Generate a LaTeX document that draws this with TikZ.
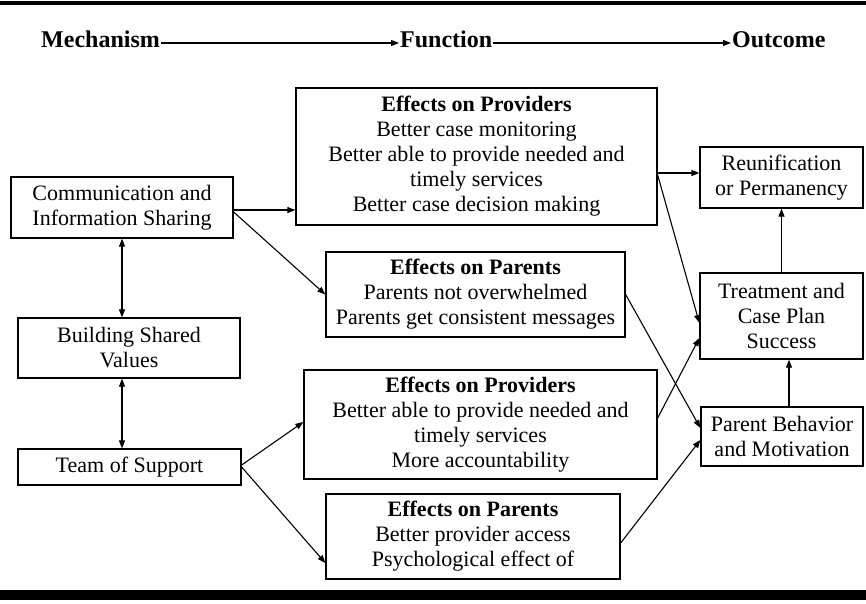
\documentclass[tikz,border=0pt]{standalone}
\usepackage{fontspec}
\setmainfont{Liberation Serif}
\usetikzlibrary{arrows.meta,calc}
\begin{document}
\begin{tikzpicture}[x=1pt,y=-1pt,
  box/.style={draw,line width=1.3pt,inner sep=0pt,align=center,
    font=\fontsize{22}{25}\selectfont},
  hdr/.style={inner sep=1pt,font=\fontsize{24}{28}\selectfont\bfseries},
  arr/.style={line width=1.1pt,-{Triangle[length=8pt,width=6pt]}},
  dbl/.style={line width=1.1pt,{Triangle[length=8pt,width=6pt]}-{Triangle[length=8pt,width=6pt]}}]
\useasboundingbox[fill=white] (0,0) rectangle (866,603);
% rules
\fill[black] (0,0.5) rectangle (866,4.5);
\fill[black] (0,590) rectangle (866,600);
% header
\node[hdr,anchor=base west] (mech) at (40,47) {Mechanism};
\node[hdr,anchor=base west] (func) at (399,47) {Function};
\node[hdr,anchor=base west] (outc) at (731,47) {Outcome};
\draw[arr] ([yshift=4pt]mech.base east) -- ([yshift=4pt]func.base west);
\draw[arr] ([yshift=4pt]func.base east) -- ([yshift=4pt]outc.base west);
% mechanism boxes
\node[box,minimum width=222pt,minimum height=61pt] (comm) at (122,207.5)
  {Communication and\\Information Sharing};
\node[box,minimum width=222pt,minimum height=60pt] (build) at (129,348)
  {Building Shared\\Values};
\node[box,minimum width=223pt,minimum height=36pt] (team) at (129.5,467)
  {Team of Support};
% function boxes
\node[box,minimum width=361pt,minimum height=137pt] (prov1) at (476.5,156.5)
  {\textbf{Effects on Providers}\\Better case monitoring\\Better able to provide needed and\\timely services\\Better case decision making};
\node[box,minimum width=299pt,minimum height=85pt] (par1) at (475.5,294.5)
  {\textbf{Effects on Parents}\\Parents not overwhelmed\\Parents get consistent messages};
\node[box,minimum width=353pt,minimum height=109pt] (prov2) at (480.5,424.5)
  {\textbf{Effects on Providers}\\Better able to provide needed and\\timely services\\More accountability};
\node[box,minimum width=294pt,minimum height=85pt] (par2) at (473,536.5)
  {\textbf{Effects on Parents}\\Better provider access\\Psychological effect of};
% outcome boxes
\node[box,minimum width=163pt,minimum height=61pt] (reun) at (781.5,177.5)
  {Reunification\\or Permanency};
\node[box,minimum width=163pt,minimum height=86pt] (treat) at (781.5,316)
  {Treatment and\\Case Plan\\Success};
\node[box,minimum width=162pt,minimum height=59pt] (pbeh) at (782,436.5)
  {Parent Behavior\\and Motivation};
% connectors
\coordinate (c1) at ([yshift=-2.5pt]comm.east);
\draw[arr] (c1) -- (c1 -| prov1.west);
\draw[arr] ([yshift=-4.5pt]comm.east) -- (par1.west);
\draw[dbl] (comm.south) -- (comm.south |- build.north);
\draw[dbl] (build.south -| comm.south) -- (team.north -| comm.south);
\draw[arr] ([yshift=2pt]team.east) -- ([yshift=2.5pt]prov2.west);
\draw[arr] (team.east) -- ([yshift=-26.5pt]par2.west);
\coordinate (r1) at ([yshift=4.5pt]reun.west);
\draw[arr] (r1 -| prov1.east) -- (r1);
\draw[arr] ([yshift=-18.5pt]prov1.east) -- ([yshift=-7pt]treat.west);
\draw[arr] (par1.east) -- ([yshift=8.5pt]pbeh.west);
\draw[arr] ([yshift=6.5pt]prov2.east) -- ([yshift=-22pt]treat.west);
\draw[arr] ([yshift=-6.5pt]par2.east) -- ([yshift=-3.5pt]pbeh.west);
\draw[arr] (treat.north) -- (reun.south);
\coordinate (p1) at ([xshift=7pt]pbeh.north);
\draw[arr] (p1) -- (p1 |- treat.south);
\end{tikzpicture}
\end{document}
